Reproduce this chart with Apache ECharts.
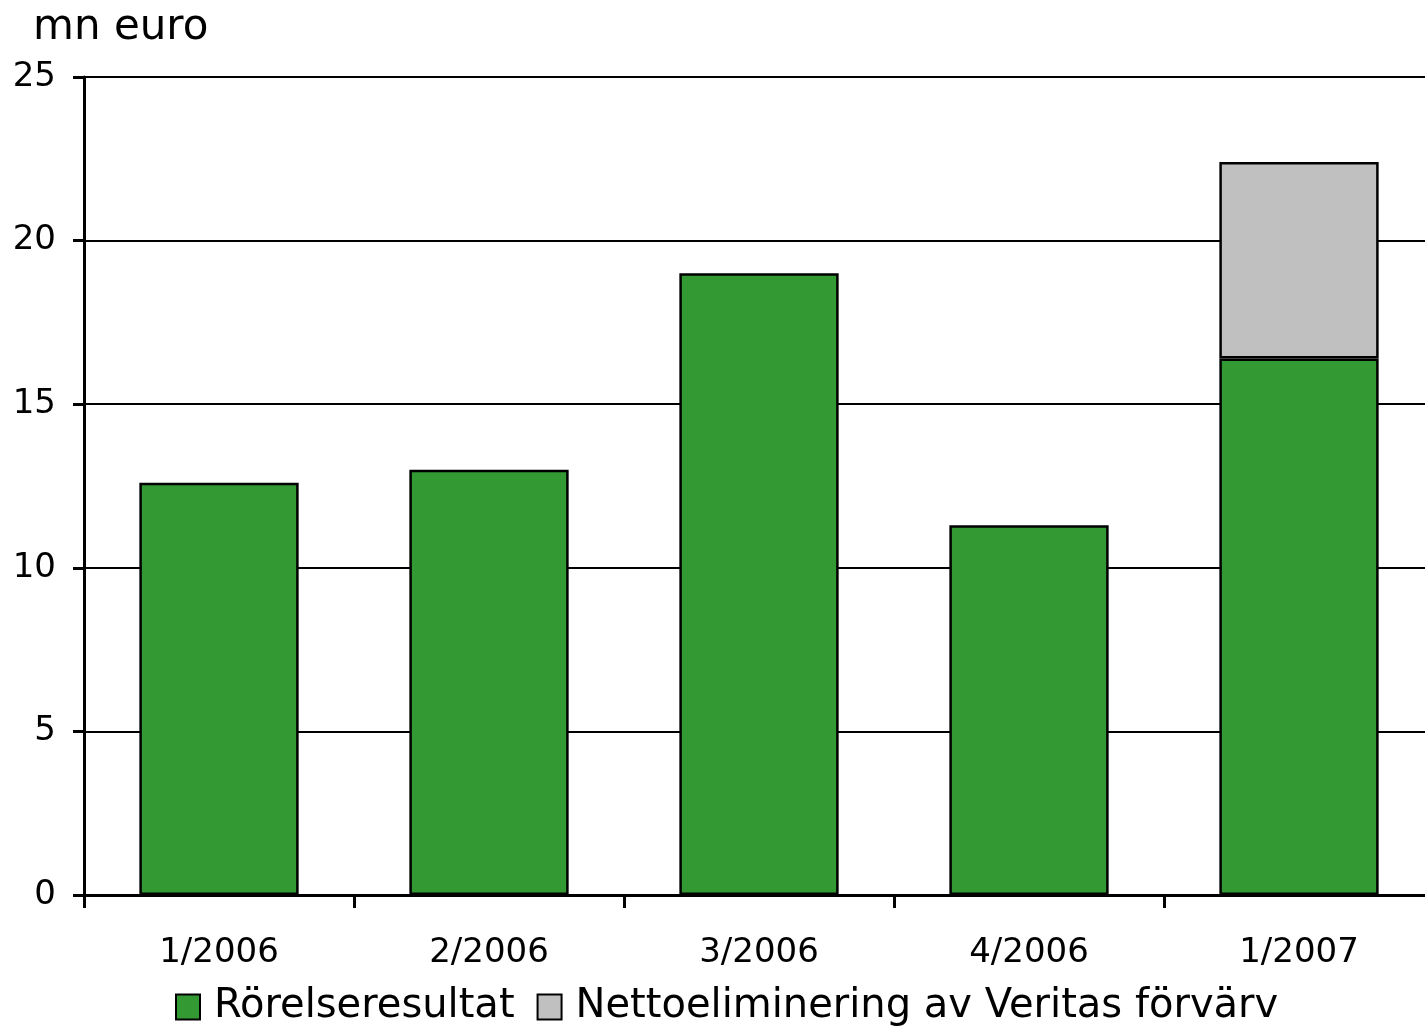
<!DOCTYPE html>
<html>
<head>
<meta charset="utf-8">
<script src="https://cdn.jsdelivr.net/npm/echarts@6/dist/echarts.min.js"></script>
<style>
html,body{margin:0;padding:0;background:#fff;overflow:hidden;}
#chart{width:1440px;height:1031px;}
</style>
</head>
<body>
<div id="chart"></div>
<script>
const categories = ['1/2006', '2/2006', '3/2006', '4/2006', '1/2007'];
const rorelseresultat = [12.6, 13.0, 19.0, 11.3, 16.4];
const nettoeliminering = [null, null, null, null, 6.0];
const yTicks = [0, 5, 10, 15, 20, 25];
const unitLabel = 'mn euro';
const seriesNames = ['Rörelseresultat', 'Nettoeliminering av Veritas förvärv'];

const FONT = 'DejaVu Sans';
const chart = echarts.init(document.getElementById('chart'), null, {renderer: 'canvas'});
chart.setOption({
  backgroundColor: '#ffffff',
  animation: false,
  textStyle: {fontFamily: FONT, color: '#000'},
  title: {
    text: unitLabel,
    left: 33, top: 7, padding: 0,
    textStyle: {fontFamily: FONT, fontSize: 42, fontWeight: 'normal', color: '#000'}
  },
  legend: {
    top: 987,
    left: 175,
    padding: 0,
    itemWidth: 24, itemHeight: 25,
    itemGap: 22,
    icon: 'rect',
    itemStyle: {borderColor: '#000', borderWidth: 2},
    textStyle: {fontFamily: FONT, fontSize: 40, color: '#000', padding: [0, 0, 0, 9]},
    data: seriesNames
  },
  grid: {left: 84, top: 77, bottom: 136, right: 6, containLabel: false},
  xAxis: {
    type: 'category',
    data: categories,
    axisLine: {lineStyle: {color: '#000', width: 3}},
    axisTick: {show: true, length: 13, inside: false, lineStyle: {color: '#000', width: 3}, alignWithLabel: false},
    axisLabel: {fontFamily: FONT, fontSize: 34, color: '#000', margin: 41}
  },
  yAxis: {
    type: 'value',
    min: yTicks[0], max: yTicks[yTicks.length - 1], interval: 5,
    axisLine: {show: true, lineStyle: {color: '#000', width: 3}},
    axisTick: {show: true, length: 11, lineStyle: {color: '#000', width: 3}},
    splitLine: {show: true, lineStyle: {color: '#000', width: 2}},
    axisLabel: {fontFamily: FONT, fontSize: 34, color: '#000', margin: 28, padding: [6, 0, 0, 0]}
  },
  series: [
    {
      name: seriesNames[0], type: 'bar', stack: 'total', data: rorelseresultat,
      barCategoryGap: '41%',
      itemStyle: {color: '#339933', borderColor: '#000', borderWidth: 2.5}
    },
    {
      name: seriesNames[1], type: 'bar', stack: 'total', data: nettoeliminering,
      barCategoryGap: '41%',
      itemStyle: {color: '#C0C0C0', borderColor: '#000', borderWidth: 2.5}
    }
  ]
});
</script>
</body>
</html>
